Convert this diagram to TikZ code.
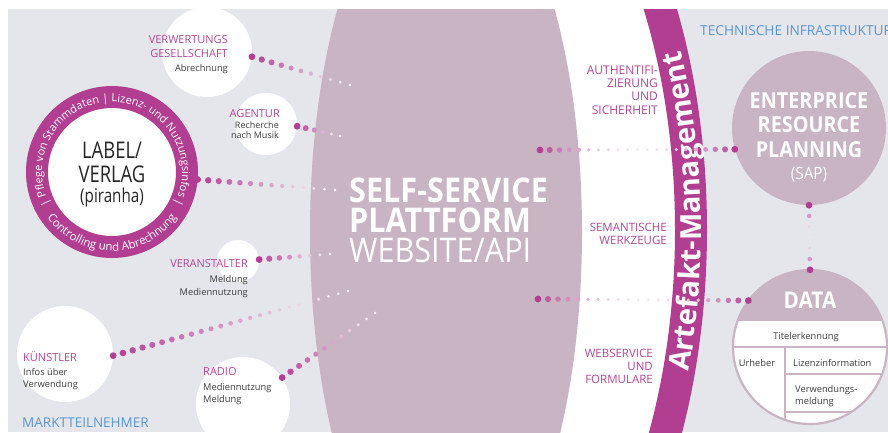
\documentclass[tikz,border=0pt]{standalone}
\usepackage{fontspec}
\setmainfont{Open Sans}
\newfontfamily\headsans[FakeStretch=0.9]{Open Sans}
\newfontfamily\condsans[FakeStretch=0.8]{Open Sans}
\usetikzlibrary{calc,shapes.geometric,decorations.text}

\definecolor{bggrey}{HTML}{E4E6EB}
\definecolor{lilac}{HTML}{C9B4C4}
\definecolor{berry}{HTML}{B23E91}
\definecolor{berrytext}{HTML}{B44696}
\definecolor{infoblue}{HTML}{5A96D2}
\definecolor{inktext}{HTML}{3C3C3C}
\definecolor{labelink}{HTML}{262626}

% stacked lines whose baseline is the first line
\newcommand\rowsL[1]{\vtop{\let\\\cr\halign{##\hfil\cr#1\crcr}}}
\newcommand\rowsR[1]{\vtop{\let\\\cr\halign{\hfil##\cr#1\crcr}}}
\newcommand\rowsC[1]{\vtop{\let\\\cr\halign{\hfil##\hfil\cr#1\crcr}}}

% dotted connector, strong at #1 and fading towards #2, #3 gaps
\newcommand\fadedots[3]{%
  \foreach \k in {0,...,#3}{%
    \pgfmathsetmacro\dott{\k/#3}%
    \pgfmathsetmacro\dotr{3.4-2.1*\dott}%
    \pgfmathsetmacro\dotc{100*(1-\dott)}%
    \fill[berry!\dotc!white] ($(#1)!\dott!(#2)$) circle[radius=\dotr pt];
  }}
% dotted connector, strong at both ends and pale in the middle
\newcommand\twindots[3]{%
  \foreach \k in {0,...,#3}{%
    \pgfmathsetmacro\dott{\k/#3}%
    \pgfmathsetmacro\dotf{abs(1-2*\dott)^2}%
    \pgfmathsetmacro\dotr{1.4+2.0*\dotf}%
    \pgfmathsetmacro\dotc{15+85*\dotf}%
    \fill[berry!\dotc!white] ($(#1)!\dott!(#2)$) circle[radius=\dotr pt];
  }}

\begin{document}
\begin{tikzpicture}[x=1pt,y=-1pt,
  disc/.style={circle, fill=white, inner sep=0pt, minimum size=#1},
  grouplabel/.style={text=berrytext, inner sep=0pt, font=\fontsize{11}{14}\selectfont},
  notetext/.style={text=inktext, inner sep=0pt, font=\fontsize{9.3}{12}\selectfont},
  sidelabel/.style={text=berrytext, inner sep=0pt, font=\fontsize{11.5}{13.4}\selectfont},
  arealabel/.style={text=infoblue, inner sep=0pt, font=\fontsize{13.5}{14}\selectfont},
  headtext/.style={text=white, inner sep=0pt},
  celltext/.style={text=inktext, inner sep=0pt, font=\fontsize{9.3}{12}\selectfont},
]
\useasboundingbox (0,0) rectangle (888,432);
\fill[white] (0,0) rectangle (888,432);
\fill[bggrey] (8,9) rectangle (888,432);

\begin{scope}
\clip (8,9) rectangle (888,432);

% white service zone right of the platform
\begin{scope}
  \clip (447,0) rectangle (888,432);
  \fill[white] (447,230) ellipse[x radius=244pt, y radius=455pt];
\end{scope}
% artefact management band
\draw[berry, line width=32pt] ($(447,230)+(-32:244pt and 455pt)$)
  arc[start angle=-32, end angle=34, x radius=244pt, y radius=455pt];
\path[decorate, decoration={text along path, text format delimiters={[}{]},
    text={[\bfseries\fontsize{29}{29}\selectfont\color{white}]Artefakt-Management},
    text align=center}]
  ($(447,230)+(-26.4:254pt and 465pt)$)
  arc[start angle=-26.4, end angle=31.6, x radius=254pt, y radius=465pt];

% central platform
\node[ellipse, fill=lilac, inner sep=0pt, minimum width=272pt, minimum height=740pt] (platform) at (446,232) {};
\node[headtext, anchor=base west, font=\headsans\bfseries\fontsize{34}{30}\selectfont] (ptitle) at (349,202) {\rowsL{SELF-SERVICE\\PLATTFORM}};
\node[headtext, anchor=base west, font=\headsans\fontsize{34}{30}\selectfont] (psub) at (349,262) {WEBSITE/API};

% market participants
\node[disc=90pt] (verwC) at (207,52) {};
\node[disc=62pt] (agC) at (266,124) {};
\node[disc=42pt] (veraC) at (238,261) {};
\node[disc=96pt] (kueC) at (65,354) {};
\node[disc=94pt] (radC) at (243,404) {};

\node[circle, fill=white, draw=berry, line width=22pt, inner sep=0pt, minimum size=150pt] (ring) at (112,172) {};
\path[decorate, decoration={text along path, text format delimiters={[}{]},
    text={[\fontsize{11}{11}\selectfont\color{white}]| Pflege von Stammdaten | Lizenz- und Nutzungsinfos |},
    text align=center}]
  ($(ring.center)+(215:70pt)$) arc[start angle=215, end angle=-35, radius=70pt];
\path[decorate, decoration={text along path, text format delimiters={[}{]},
    text={[\fontsize{11.5}{11.5}\selectfont\color{white}]Controlling und Abrechnung},
    text align=center}]
  ($(ring.center)+(205:79pt)$) arc[start angle=205, end angle=335, radius=79pt];
\node[text=labelink, inner sep=0pt, anchor=base, font=\condsans\fontsize{23}{24}\selectfont] (labelname) at (112,158) {\rowsC{LABEL/\\VERLAG}};
\node[text=labelink, inner sep=0pt, anchor=base, font=\condsans\fontsize{19}{20}\selectfont] (labelsub) at (112,202) {(piranha)};

\node[grouplabel, anchor=base east] (verwT) at (228,43) {\rowsR{VERWERTUNGS\\GESELLSCHAFT}};
\node[notetext, anchor=base east] (verwD) at (228,71) {Abrechnung};
\node[grouplabel, anchor=base east] (agT) at (280,117) {AGENTUR};
\node[notetext, anchor=base east, font=\fontsize{9}{10.5}\selectfont] (agD) at (279,128) {\rowsR{Recherche\\nach Musik}};
\node[grouplabel, anchor=base east] (veraT) at (248,267) {VERANSTALTER};
\node[notetext, anchor=base east, font=\fontsize{9.3}{13}\selectfont] (veraD) at (248,282) {\rowsR{Meldung\\Mediennutzung}};
\node[grouplabel, anchor=base west] (kueT) at (23,361) {KÜNSTLER};
\node[notetext, anchor=base west] (kueD) at (23,375) {\rowsL{Infos über\\Verwendung}};
\node[grouplabel, anchor=base west] (radT) at (203,375) {RADIO};
\node[notetext, anchor=base west, font=\fontsize{9.3}{12.5}\selectfont] (radD) at (203,390) {\rowsL{Mediennutzung\\Meldung}};

\node[arealabel, anchor=base west] (markt) at (22,427) {MARKTTEILNEHMER};
\node[arealabel, anchor=base west, font=\fontsize{13.7}{14}\selectfont] (tech) at (700,35) {TECHNISCHE INFRASTRUKTUR};

% service labels
\node[sidelabel, anchor=base east, font=\fontsize{12}{13.4}\selectfont] (authL) at (658,74) {\rowsR{AUTHENTIFI-\\ZIERUNG\\UND\\SICHERHEIT}};
\node[sidelabel, anchor=base east, font=\fontsize{11.5}{13}\selectfont] (semL) at (667,231) {\rowsR{SEMANTISCHE\\WERKZEUGE}};
\node[sidelabel, anchor=base east] (webL) at (653,357) {\rowsR{WEBSERVICE\\UND\\FORMULARE}};

% technical infrastructure
\node[circle, fill=lilac, inner sep=0pt, minimum size=154pt] (erp) at (809,128) {};
\node[headtext, anchor=base, font=\headsans\bfseries\fontsize{22}{24.5}\selectfont] (erptitle) at (809,108) {\rowsC{ENTERPRICE\\RESOURCE\\PLANNING}};
\node[headtext, anchor=base, font=\headsans\fontsize{17}{17}\selectfont] (erpsap) at (809,179) {(SAP)};

\node[circle, fill=white, inner sep=0pt, minimum size=154pt] (data) at (810,347) {};
\begin{scope}
  \clip (data.center) circle[radius=77pt];
  \fill[lilac] (720,260) rectangle (900,321);
  \draw[lilac, line width=2pt] (720,347) -- (900,347);
  \draw[lilac, line width=2pt] (785,347) -- (785,440);
  \draw[lilac, line width=2pt] (785,374) -- (900,374);
  \draw[lilac, line width=2pt] (785,412) -- (900,412);
\end{scope}
\draw[lilac, line width=2.2pt] (data.center) circle[radius=77pt];
\node[headtext, anchor=base, font=\headsans\bfseries\fontsize{23}{23}\selectfont] (datatitle) at (810,308) {DATA};
\node[celltext, anchor=base] (cellTitel) at (806,339) {Titelerkennung};
\node[celltext, anchor=base] (cellUrheber) at (757,366) {Urheber};
\node[celltext, anchor=base west] (cellLizenz) at (793,366) {Lizenzinformation};
\node[celltext, anchor=base west] (cellMeldung) at (795,392) {\rowsL{Verwendungs-\\meldung}};

% connectors
\coordinate (verwEnd) at (350,85);
\coordinate (agEnd) at (340,136);
\coordinate (labelEnd) at (335,190);
\coordinate (veraEnd) at (330,254);
\coordinate (kueEnd) at (348,291);
\coordinate (radEnd) at (375,313);
\fadedots{verwC.-6}{verwEnd}{10}
\fadedots{agC.-4}{agEnd}{5}
\fadedots{ring.-5}{labelEnd}{13}
\fadedots{veraC.4}{veraEnd}{7}
\fadedots{kueC.-2}{kueEnd}{24}
\fadedots{radC.34}{radEnd}{11}

\coordinate (authLink) at (540,150);
\coordinate (webLink) at (538,299);
\twindots{authLink}{erp.196}{20}
\twindots{webLink}{data.143}{21}
\twindots{erp.south}{data.north}{6}
\end{scope}
\end{tikzpicture}
\end{document}
